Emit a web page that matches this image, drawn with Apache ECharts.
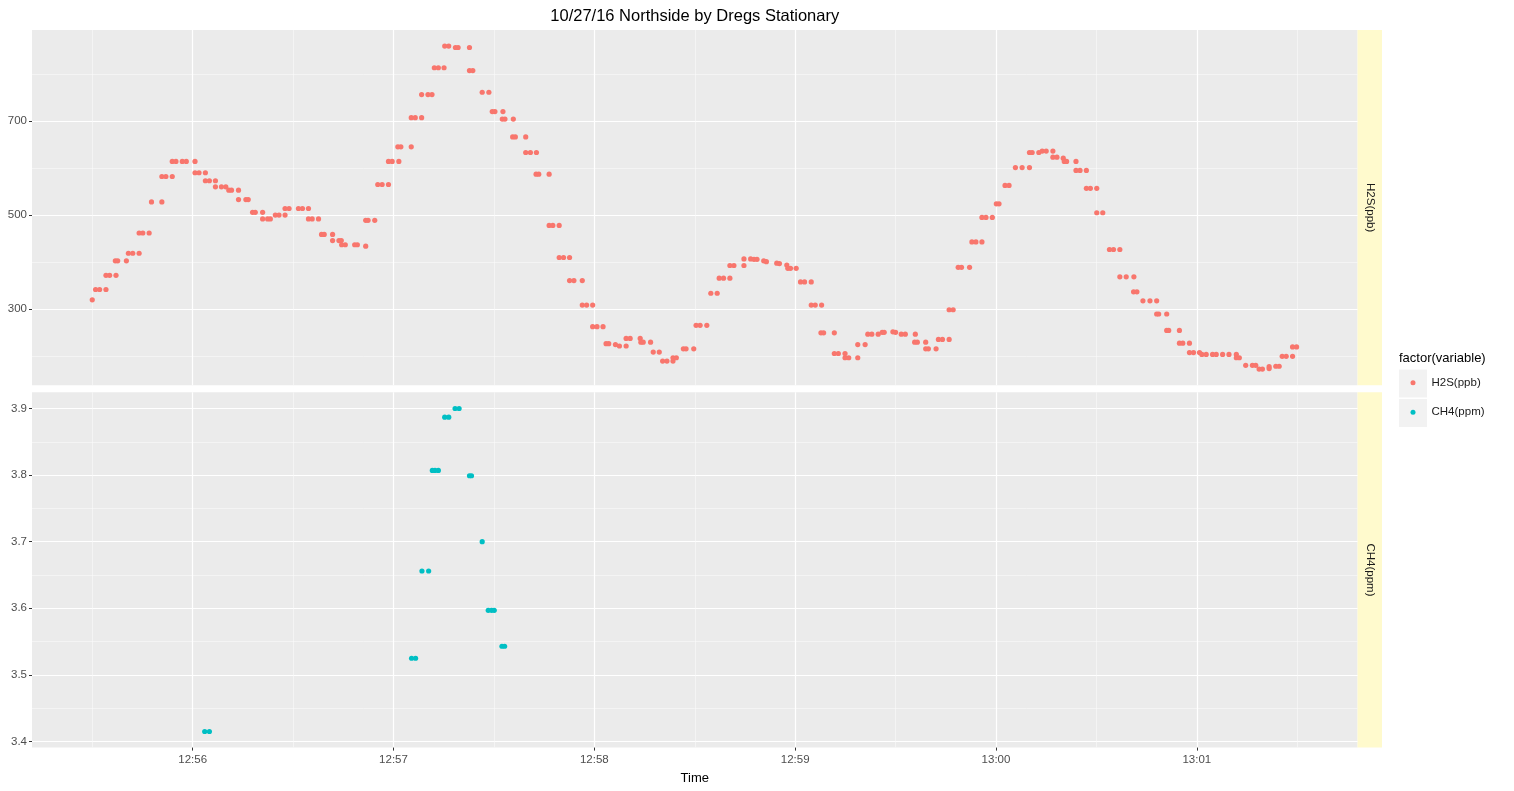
<!DOCTYPE html>
<html><head><meta charset="utf-8">
<script src="https://cdn.jsdelivr.net/npm/echarts@6/dist/echarts.min.js"></script>
<style>html,body{margin:0;padding:0;background:#fff}#c{width:1514px;height:791px}</style>
</head><body><div id="c"></div>
<script>
// ---- data (time = seconds after 12:55:30) ----
const TITLE = '10/27/16 Northside by Dregs Stationary';
const X_NAME = 'Time';
const LEGEND_TITLE = 'factor(variable)';
const SERIES_NAMES = ['H2S(ppb)', 'CH4(ppm)'];
const X_TICK_VALUES = [30, 90, 150, 210, 270, 330];
const X_TICK_LABELS = ['12:56', '12:57', '12:58', '12:59', '13:00', '13:01'];
const X_MINOR = [0, 60, 120, 180, 240, 300, 360];
const H2S_TICK_VALUES = [300, 500, 700];
const H2S_TICK_LABELS = ['300', '500', '700'];
const H2S_MINOR = [200, 400, 600, 800];
const CH4_TICK_VALUES = [3.4, 3.5, 3.6, 3.7, 3.8, 3.9];
const CH4_TICK_LABELS = ['3.4', '3.5', '3.6', '3.7', '3.8', '3.9'];
const CH4_MINOR = [3.45, 3.55, 3.65, 3.75, 3.85];

const h2s = [
 [0.0,320],[1.0,342],[2.2,342],[4.1,342],[4.1,372],[5.2,372],[7.1,372],
 [6.9,403],[7.6,403],[10.2,403],[10.8,419],[12.1,419],[14.0,419],
 [14.0,462],[15.1,462],[17.0,462],[17.7,528],[20.8,528],
 [20.8,582],[22.0,582],[23.9,582],[23.9,614],[25.0,614],[26.9,614],[28.1,614],[30.7,614],
 [30.7,590],[31.9,590],[33.8,590],[33.8,573],[35.0,573],[36.8,573],
 [36.8,560],[38.6,560],[39.9,560],[40.8,553],[41.6,553],[43.7,553],
 [43.7,533],[45.9,533],[46.6,533],[47.9,506],[48.7,506],[50.9,506],
 [50.9,492],[52.4,492],[53.2,492],[54.7,500],[55.8,500],[57.6,500],
 [57.6,514],[58.8,514],[61.6,514],[62.8,514],[64.6,514],
 [64.6,492],[65.7,492],[67.6,492],[68.5,459],[69.3,459],[71.8,459],
 [71.8,446],[73.7,446],[74.4,446],[74.5,437],[75.6,437],[78.4,437],[79.2,437],
 [81.7,434],[81.7,489],[82.4,489],[84.4,489],[85.3,565],[86.6,565],[88.5,565],
 [88.5,614],[89.6,614],[91.6,614],[91.3,645],[92.2,645],[95.3,645],
 [95.3,707],[96.5,707],[98.4,707],[98.4,756],[100.3,756],[101.5,756],
 [102.2,813],[103.4,813],[105.1,813],[105.3,859],[106.5,859],
 [108.5,856],[109.3,856],[112.7,856],[112.7,807],[113.7,807],
 [116.5,761],[118.5,761],[119.5,720],[120.3,720],[122.7,720],
 [122.5,704],[123.3,704],[125.8,704],[125.6,666],[126.4,666],[129.5,666],
 [129.5,633],[130.9,633],[132.7,633],[132.6,587],[133.4,587],[136.5,587],
 [136.5,478],[137.6,478],[139.5,478],[139.5,410],[140.8,410],[142.6,410],
 [142.6,361],[143.9,361],[146.4,361],[146.4,309],[147.7,309],[149.5,309],
 [149.5,263],[150.8,263],[152.6,263],[153.5,227],[154.3,227],[156.3,225],
 [157.5,222],[159.5,222],[159.5,238],[160.7,238],[163.7,238],
 [163.9,230],[164.6,230],[166.8,230],[167.6,209],[169.4,209],
 [170.4,190],[171.7,190],[173.5,190],[173.5,197],[174.5,197],
 [176.6,216],[177.4,216],[179.7,216],[180.4,266],[181.6,266],[183.6,266],
 [184.8,334],[186.7,334],[187.3,366],[188.6,366],[190.5,366],
 [190.5,393],[191.7,393],[194.7,393],[194.7,407],[196.7,407],[197.7,406],[198.6,406],
 [200.6,403],[201.4,401],[204.5,398],[205.3,397],[207.5,394],
 [207.8,387],[208.6,387],[210.3,387],[211.6,358],[212.8,358],[214.8,358],
 [214.8,309],[216.0,309],[217.9,309],[217.7,250],[218.5,250],[221.7,250],
 [221.7,206],[222.9,206],[224.9,206],[224.9,197],[226.0,197],[228.7,197],
 [228.7,225],[230.9,225],[231.7,247],[232.9,247],[234.8,247],
 [236.0,251],[236.6,251],[239.2,252],[240.0,251],[241.7,247],[242.9,247],[245.9,247],
 [245.7,230],[246.5,230],[249.0,230],[249.0,216],[249.8,216],[252.1,216],
 [252.8,236],[254.0,236],[256.0,236],[256.0,299],[257.2,299],
 [258.7,389],[259.7,389],[262.1,389],[262.8,443],[264.0,443],[265.8,443],
 [265.8,495],[267.0,495],[268.9,495],[270.1,524],[270.9,524],
 [272.7,563],[273.9,563],[275.8,601],[277.8,601],[280.0,601],
 [280.0,633],[280.8,633],[282.8,633],[283.8,636],[285.0,636],[287.0,636],
 [287.0,623],[288.2,623],[290.1,621],[290.4,614],[291.1,614],[293.9,614],
 [293.9,595],[295.1,595],[297.0,595],[297.0,557],[298.2,557],[300.1,557],
 [300.1,505],[301.9,505],[303.9,427],[305.1,427],[307.0,427],
 [307.0,369],[308.9,369],[311.2,369],[311.1,337],[312.1,337],
 [313.9,318],[316.0,318],[318.0,318],[318.0,290],[318.6,290],[321.0,290],
 [321.0,255],[321.6,255],[324.8,255],[324.8,228],[325.8,228],[327.8,228],
 [327.8,208],[329.0,208],[330.8,208],
 [331.5,204],[332.8,204],[334.7,204],[335.8,204],[337.7,204],[339.6,204],[341.8,204],
 [341.8,197],[342.7,197],[344.6,181],[346.6,181],[347.6,181],
 [348.6,173],[349.6,173],[351.6,178],[351.6,174],[353.6,179],[354.6,179],
 [355.5,200],[356.7,200],[358.6,200],[358.6,220],[359.8,220]
];
const ch4 = [
 [33.6,3.415],[35.0,3.415],[95.4,3.525],[96.6,3.525],[98.5,3.656],[100.5,3.656],
 [101.6,3.807],[102.4,3.807],[103.4,3.807],[105.3,3.887],[106.5,3.887],
 [108.4,3.900],[109.6,3.900],[112.7,3.799],[113.3,3.799],[116.5,3.700],
 [118.3,3.597],[119.3,3.597],[120.1,3.597],[122.4,3.543],[123.2,3.543]
];

// ---- chart ----
const FONT = "'Liberation Sans', Arial, sans-serif";
const COLORS = ['#F8766D', '#00BFC4'];
const GRID_L = 32, GRID_W = 1325.5, GRID_H = 355.3;
const TOPS = [30, 392.3];
const X_MIN = -18, X_MAX = 378;
const Y_RANGES = [[138.5, 893.2], [3.3908, 3.9243]];

function labelFor(values, labels) {
  return function (v) {
    for (let i = 0; i < values.length; i++) if (Math.abs(values[i] - v) < 1e-6) return labels[i];
    return '';
  };
}
const tickStyle = { show: true, length: 3, lineStyle: { color: '#333333', width: 1 } };
const labelStyle = { color: '#4D4D4D', fontSize: 11.5, fontFamily: FONT };

function xAxisMajor(gi, showLabels) {
  return {
    gridIndex: gi, type: 'value', position: 'bottom', min: X_MIN, max: X_MAX,
    axisLine: { show: false, onZero: false },
    axisTick: Object.assign({}, tickStyle, { show: showLabels, customValues: X_TICK_VALUES }),
    axisLabel: Object.assign({}, labelStyle, { show: showLabels, margin: 6, customValues: X_TICK_VALUES,
      formatter: labelFor(X_TICK_VALUES, X_TICK_LABELS) }),
    splitLine: { show: true, lineStyle: { color: '#FFFFFF', width: 1.2 } },
    name: showLabels ? X_NAME : '', nameLocation: 'middle', nameGap: 24,
    nameTextStyle: { color: '#000', fontSize: 13, fontFamily: FONT }
  };
}
function xAxisMinor(gi) {
  return {
    gridIndex: gi, type: 'value', position: 'bottom', min: X_MIN, max: X_MAX,
    axisLine: { show: false, onZero: false },
    axisTick: { show: false, customValues: X_MINOR },
    axisLabel: { show: false, customValues: X_MINOR },
    splitLine: { show: true, lineStyle: { color: '#FAFAFA', width: 0.6 } }
  };
}
function yAxisMajor(gi, vals, labs) {
  return {
    gridIndex: gi, type: 'value', position: 'left', min: Y_RANGES[gi][0], max: Y_RANGES[gi][1],
    axisLine: { show: false, onZero: false },
    axisTick: Object.assign({}, tickStyle, { customValues: vals }),
    axisLabel: Object.assign({}, labelStyle, { margin: 5, customValues: vals, formatter: labelFor(vals, labs) }),
    splitLine: { show: true, lineStyle: { color: '#FFFFFF', width: 1.2 } }
  };
}
function yAxisMinor(gi, vals) {
  return {
    gridIndex: gi, type: 'value', position: 'left', min: Y_RANGES[gi][0], max: Y_RANGES[gi][1],
    axisLine: { show: false, onZero: false },
    axisTick: { show: false, customValues: vals },
    axisLabel: { show: false, customValues: vals },
    splitLine: { show: true, lineStyle: { color: '#FAFAFA', width: 0.6 } }
  };
}

const STRIP_X = GRID_L + GRID_W, STRIP_W = 24.5;
const option = {
  animation: false,
  backgroundColor: '#FFFFFF',
  title: {
    text: TITLE, left: GRID_L + GRID_W / 2, top: 8, textAlign: 'center', padding: 0,
    textStyle: { color: '#000', fontSize: 16.5, fontWeight: 'normal', fontFamily: FONT }
  },
  grid: TOPS.map(t => ({ left: GRID_L, top: t, width: GRID_W, height: GRID_H, show: true,
    backgroundColor: '#EBEBEB', borderWidth: 0, containLabel: false })),
  xAxis: [xAxisMajor(0, false), xAxisMinor(0), xAxisMajor(1, true), xAxisMinor(1)],
  yAxis: [yAxisMajor(0, H2S_TICK_VALUES, H2S_TICK_LABELS), yAxisMinor(0, H2S_MINOR),
          yAxisMajor(1, CH4_TICK_VALUES, CH4_TICK_LABELS), yAxisMinor(1, CH4_MINOR)],
  legend: {
    orient: 'vertical', left: 1410.5, top: 368, padding: 0, itemGap: 0,
    itemWidth: 5, itemHeight: 5, icon: 'circle', selectedMode: false,
    textStyle: { color: '#1A1A1A', fontSize: 11.5, fontFamily: FONT, lineHeight: 25.5, padding: [4, 0, 0, 11] },
    data: SERIES_NAMES
  },
  graphic: [
    { type: 'rect', z: 0, shape: { x: STRIP_X, y: TOPS[0], width: STRIP_W, height: GRID_H }, style: { fill: '#FFFACD' } },
    { type: 'rect', z: 0, shape: { x: STRIP_X, y: TOPS[1], width: STRIP_W, height: GRID_H }, style: { fill: '#FFFACD' } },
    { type: 'text', z: 1, x: STRIP_X + STRIP_W / 2, y: TOPS[0] + GRID_H / 2, rotation: -Math.PI / 2,
      style: { text: SERIES_NAMES[0], align: 'center', verticalAlign: 'middle', fill: '#1A1A1A', fontSize: 11.5, fontFamily: FONT } },
    { type: 'text', z: 1, x: STRIP_X + STRIP_W / 2, y: TOPS[1] + GRID_H / 2, rotation: -Math.PI / 2,
      style: { text: SERIES_NAMES[1], align: 'center', verticalAlign: 'middle', fill: '#1A1A1A', fontSize: 11.5, fontFamily: FONT } },
    { type: 'text', z: 1, x: 1399, y: 358,
      style: { text: LEGEND_TITLE, align: 'left', verticalAlign: 'middle', fill: '#000', fontSize: 13, fontFamily: FONT } },
    { type: 'rect', z: 0, shape: { x: 1399, y: 369.5, width: 28, height: 28 }, style: { fill: '#F2F2F2' } },
    { type: 'rect', z: 0, shape: { x: 1399, y: 399, width: 28, height: 28 }, style: { fill: '#F2F2F2' } }
  ],
  series: [
    { name: SERIES_NAMES[0], type: 'scatter', xAxisIndex: 0, yAxisIndex: 0, data: h2s,
      symbol: 'circle', symbolSize: 5.2, itemStyle: { color: COLORS[0], opacity: 1 } },
    { name: SERIES_NAMES[1], type: 'scatter', xAxisIndex: 2, yAxisIndex: 2, data: ch4,
      symbol: 'circle', symbolSize: 5.2, itemStyle: { color: COLORS[1], opacity: 1 } }
  ]
};
const chart = echarts.init(document.getElementById('c'), null, { renderer: 'canvas' });
chart.setOption(option);
</script></body></html>
